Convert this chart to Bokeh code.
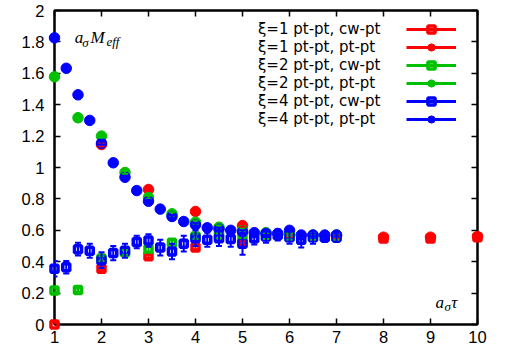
from bokeh.plotting import figure
from bokeh.models import (Range1d, LinearAxis, FixedTicker, Whisker, TeeHead,
                          ColumnDataSource, Legend, LegendItem, Label)
from bokeh.embed import file_html
from bokeh.resources import INLINE

# ---------------- data ----------------
x1 = [1, 2, 3, 4, 5, 6, 7, 8, 9, 10]
x2 = [1, 1.5, 2, 2.5, 3, 3.5, 4, 4.5, 5, 5.5, 6, 6.5, 7]
x4 = [1, 1.25, 1.5, 1.75, 2, 2.25, 2.5, 2.75, 3, 3.25, 3.5, 3.75, 4, 4.25,
      4.5, 4.75, 5, 5.25, 5.5, 5.75, 6, 6.25, 6.5, 6.75, 7]

xi1_cw = [0.0, 0.355, 0.435, 0.49, 0.52, 0.565, 0.56, 0.548, 0.548, 0.555]
xi1_cw_err = [0.01] * 10
x1_pt = [2, 3, 4, 5, 6, 7, 8, 9, 10]
xi1_pt = [1.146, 0.86, 0.72, 0.63, 0.57, 0.565, 0.556, 0.556, 0.56]
xi1_pt_err = [0.01] * 9

xi2_cw = [0.217, 0.22, 0.42, 0.46, 0.48, 0.52, 0.56, 0.565, 0.57, 0.565,
          0.56, 0.56, 0.56]
xi2_cw_err = [0.01, 0.01, 0.015, 0.015, 0.015, 0.015, 0.015, 0.015, 0.02,
              0.02, 0.02, 0.02, 0.02]
xi2_pt = [1.578, 1.317, 1.20, 0.968, 0.81, 0.705, 0.652, 0.62, 0.60, 0.585,
          0.575, 0.57, 0.57]
xi2_pt_err = [0.01] * 13

xi4_cw = [0.355, 0.365, 0.48, 0.47, 0.41, 0.455, 0.47, 0.525, 0.535, 0.49,
          0.465, 0.515, 0.55, 0.54, 0.55, 0.545, 0.515, 0.55, 0.56, 0.57,
          0.555, 0.54, 0.555, 0.555, 0.555]
xi4_cw_err = [0.05, 0.04, 0.04, 0.045, 0.05, 0.045, 0.045, 0.04, 0.04, 0.05,
              0.05, 0.05, 0.05, 0.045, 0.05, 0.05, 0.07, 0.04, 0.04, 0.035,
              0.04, 0.05, 0.04, 0.03, 0.03]
xi4_pt = [1.826, 1.632, 1.463, 1.30, 1.155, 1.03, 0.938, 0.853, 0.785, 0.735,
          0.688, 0.656, 0.635, 0.616, 0.607, 0.60, 0.59, 0.585, 0.58, 0.58,
          0.6, 0.57, 0.57, 0.57, 0.57]
xi4_pt_err = [0.01] * 25

labels = ["ξ=1 pt-pt, cw-pt", "ξ=1 pt-pt, pt-pt",
          "ξ=2 pt-pt, cw-pt", "ξ=2 pt-pt, pt-pt",
          "ξ=4 pt-pt, cw-pt", "ξ=4 pt-pt, pt-pt"]

x_ticks = [1, 2, 3, 4, 5, 6, 7, 8, 9, 10]
y_ticks = [0, 0.2, 0.4, 0.6, 0.8, 1, 1.2, 1.4, 1.6, 1.8, 2]
y_tick_labels = ["0", "0.2", "0.4", "0.6", "0.8", "1", "1.2", "1.4", "1.6", "1.8", "2"]

RED, GREEN, BLUE = "#ff0000", "#00c000", "#0000ff"
FONT = "Liberation Sans"
TICK_FS = "16.5px"

p = figure(width=508, height=359, output_backend="svg", toolbar_location=None,
           x_range=Range1d(1, 10), y_range=Range1d(0, 2),
           min_border_left=54, min_border_right=31, min_border_top=10,
           min_border_bottom=35)
p.xgrid.visible = False
p.ygrid.visible = False
p.outline_line_color = "black"
p.outline_line_width = 2


def style_axis(ax, ticks, show_labels, overrides=None):
    ax.ticker = FixedTicker(ticks=ticks)
    ax.axis_line_color = "black"
    ax.axis_line_width = 2
    ax.major_tick_in = 6
    ax.major_tick_out = 0
    ax.major_tick_line_color = "black"
    ax.major_tick_line_width = 1.5
    ax.minor_tick_out = 0
    ax.minor_tick_in = 0
    ax.major_label_text_font = FONT
    ax.major_label_text_color = "black"
    ax.major_label_text_font_size = TICK_FS
    if show_labels:
        if overrides:
            ax.major_label_overrides = overrides
    else:
        ax.major_label_overrides = {t: "" for t in ticks}
        ax.major_label_standoff = 0


style_axis(p.xaxis[0], x_ticks, True)
p.xaxis[0].major_label_standoff = 6
style_axis(p.yaxis[0], y_ticks, True, dict(zip(y_ticks, y_tick_labels)))
p.yaxis[0].major_label_standoff = 10

top = LinearAxis()
style_axis(top, x_ticks, False)
p.add_layout(top, "above")
right = LinearAxis()
style_axis(right, y_ticks, False)
p.add_layout(right, "right")

series = [
    (x1, xi1_cw, xi1_cw_err, RED, "square"),
    (x1_pt, xi1_pt, xi1_pt_err, RED, "circle"),
    (x2, xi2_cw, xi2_cw_err, GREEN, "square"),
    (x2, xi2_pt, xi2_pt_err, GREEN, "circle"),
    (x4, xi4_cw, xi4_cw_err, BLUE, "square"),
    (x4, xi4_pt, xi4_pt_err, BLUE, "circle"),
]

glyph_items = []
dummy = p.line(x=[0], y=[-10], line_alpha=0)
for (xs, ys, es, col, mk), lab in zip(series, labels):
    src = ColumnDataSource(dict(x=xs, y=ys,
                                lo=[a - b for a, b in zip(ys, es)],
                                hi=[a + b for a, b in zip(ys, es)]))
    w = Whisker(source=src, base="x", lower="lo", upper="hi",
                line_color=col, line_width=2, level="overlay",
                upper_head=TeeHead(size=6, line_color=col, line_width=2),
                lower_head=TeeHead(size=6, line_color=col, line_width=2))
    p.add_layout(w)
    if mk == "square":
        r = p.scatter("x", "y", source=src, marker="square", size=7,
                      line_width=3.5, line_color=col, fill_color=None,
                      level="overlay")
    else:
        r = p.scatter("x", "y", source=src, marker="circle", size=10.5,
                      line_width=1, line_color=col, fill_color=col,
                      level="overlay")
    ln = p.line(x=[0, 0.5], y=[-10, -10], line_color=col, line_width=3)
    glyph_items.append(LegendItem(label=" ", renderers=[ln, r]))

ROW = 18
text_legend = Legend(items=[LegendItem(label=l, renderers=[dummy]) for l in labels],
                     location=(204, 196), glyph_width=0, glyph_height=ROW,
                     label_height=ROW, label_standoff=0, spacing=0, padding=0,
                     margin=0, border_line_color=None, background_fill_alpha=0,
                     label_text_font="DejaVu Sans", label_text_font_size="15px",
                     label_text_color="black")
glyph_legend = Legend(items=glyph_items, location=(352, 196), glyph_width=50,
                      glyph_height=ROW, label_height=ROW, label_standoff=0,
                      spacing=0, padding=0, margin=0, border_line_color=None,
                      background_fill_alpha=0, label_text_font_size="8px")
p.add_layout(text_legend, "center")
p.add_layout(glyph_legend, "center")

SERIF = "Liberation Serif"
def lab(x, y, t, fs):
    p.add_layout(Label(x=x, y=y, text=t, text_font=SERIF, text_font_style="italic",
                       text_font_size=fs, text_baseline="alphabetic",
                       text_color="black"))

lab(1.43, 1.83, "a", "17px")
lab(1.59, 1.795, "σ", "13px")
lab(1.766, 1.83, "M", "17px")
lab(2.106, 1.805, "eff", "13px")

lab(9.106, 0.142, "a", "17px")
lab(9.30, 0.112, "σ", "13px")
lab(9.44, 0.142, "τ", "17px")

open("out.html", "w").write(file_html(p, INLINE))
